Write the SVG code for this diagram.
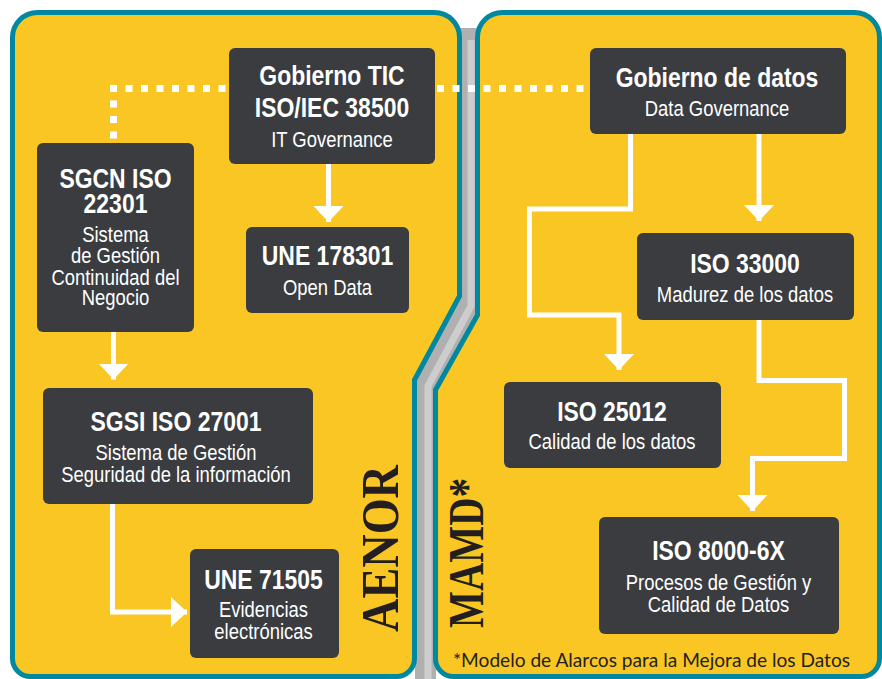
<svg xmlns="http://www.w3.org/2000/svg" width="882" height="679" viewBox="0 0 882 679">
<defs>
<style>
.panel{fill:#F9C623;stroke:#0088A0;stroke-width:5}
.box{fill:#3A3C40}
.t{fill:#FFFFFF;text-anchor:middle;font-family:"Liberation Sans",Arial,sans-serif}
.b{font-weight:bold;font-size:28px}
.r{font-weight:normal;font-size:22.5px}
.conn{fill:none;stroke:#FFFFFF;stroke-width:5;stroke-linejoin:miter}
.dot{fill:none;stroke:#FFFFFF;stroke-width:7;stroke-dasharray:7 8.5}
.big{fill:#231F20;font-family:"Liberation Serif",serif;font-weight:bold;text-anchor:middle}
</style>
<marker id="ah" viewBox="0 0 16 30" markerWidth="16" markerHeight="30" refX="16" refY="15" markerUnits="userSpaceOnUse" orient="auto">
<path d="M0,0 L16,15 L0,30 Z" fill="#FFFFFF"/>
</marker>
</defs>

<g id="background">
<rect x="0" y="0" width="882" height="679" fill="#FFFFFF"/>
<path d="M460,28 V297 L415,380 V679 H436 V390 L478,315 V28 Z" fill="#B0B0B0"/>
<path d="M471,40 V306 L428,386 V679" fill="none" stroke="#CDCDCD" stroke-width="7"/>
</g>

<g id="panel-aenor">
<path class="panel" d="M37.5,12.5 H434.5 A25,25 0 0 1 459.5,37.5 V296 L414.5,380 V658.5 A18,18 0 0 1 396.5,676.5 H30.5 A18,18 0 0 1 12.5,658.5 V37.5 A25,25 0 0 1 37.5,12.5 Z"/>
<text class="big" font-size="53" textLength="167" lengthAdjust="spacingAndGlyphs" transform="translate(398,548.5) rotate(-90)">AENOR</text>
</g>

<g id="panel-mamd">
<path class="panel" d="M502.5,12.5 H854.5 A25,25 0 0 1 879.5,37.5 V658.5 A18,18 0 0 1 861.5,676.5 H453.5 A18,18 0 0 1 435.5,658.5 V390 L477.5,315 V37.5 A25,25 0 0 1 502.5,12.5 Z"/>
<text class="big" font-size="50" textLength="150" lengthAdjust="spacingAndGlyphs" transform="translate(483,553) rotate(-90)">MAMD*</text>
<text x="453" y="667" font-family="Lato,'Open Sans',sans-serif" font-size="20" fill="#231F20" textLength="397" lengthAdjust="spacingAndGlyphs">*Modelo de Alarcos para la Mejora de los Datos</text>
</g>

<g id="connectors">
<path class="dot" d="M110,88.5 H229"/>
<path class="dot" d="M113.5,85 V143"/>
<path class="dot" d="M437,88.5 H590"/>
<path class="conn" d="M328.5,164 V222" marker-end="url(#ah)"/>
<path class="conn" d="M113.5,332 V379.5" marker-end="url(#ah)"/>
<path class="conn" d="M112.5,504 V612 H187" marker-end="url(#ah)"/>
<path class="conn" d="M759,134 V221" marker-end="url(#ah)"/>
<path class="conn" d="M630.5,134 V209 H529.5 V315 H619 V370" marker-end="url(#ah)"/>
<path class="conn" d="M759,320 V380.5 H844.5 V458.5 H752.5 V511" marker-end="url(#ah)"/>
</g>

<g id="node-gobierno-tic">
<rect class="box" x="229" y="48" width="206" height="116" rx="6"/>
<text class="t b" transform="translate(332,85) scale(0.82,1)">Gobierno TIC</text>
<text class="t b" transform="translate(332,117) scale(0.82,1)">ISO/IEC 38500</text>
<text class="t r" transform="translate(332,146.5) scale(0.82,1)">IT Governance</text>
</g>

<g id="node-sgcn">
<rect class="box" x="37" y="143" width="157" height="189" rx="6"/>
<text class="t b" transform="translate(115.5,188) scale(0.82,1)">SGCN ISO</text>
<text class="t b" transform="translate(115.5,212.5) scale(0.82,1)">22301</text>
<text class="t r" transform="translate(115.5,241.5) scale(0.82,1)">Sistema</text>
<text class="t r" transform="translate(115.5,263) scale(0.82,1)">de Gestión</text>
<text class="t r" transform="translate(115.5,284.5) scale(0.82,1)">Continuidad del</text>
<text class="t r" transform="translate(115.5,305) scale(0.82,1)">Negocio</text>
</g>

<g id="node-une178301">
<rect class="box" x="246" y="227" width="163" height="86" rx="6"/>
<text class="t b" transform="translate(327.5,265) scale(0.82,1)">UNE 178301</text>
<text class="t r" transform="translate(327.5,295) scale(0.82,1)">Open Data</text>
</g>

<g id="node-sgsi">
<rect class="box" x="43" y="388" width="270" height="116" rx="6"/>
<text class="t b" transform="translate(176,431) scale(0.82,1)">SGSI ISO 27001</text>
<text class="t r" transform="translate(176,460) scale(0.82,1)">Sistema de Gestión</text>
<text class="t r" transform="translate(176,481.5) scale(0.82,1)">Seguridad de la información</text>
</g>

<g id="node-une71505">
<rect class="box" x="190" y="549" width="149" height="109" rx="6"/>
<text class="t b" transform="translate(263.5,589) scale(0.82,1)">UNE 71505</text>
<text class="t r" transform="translate(263.5,617) scale(0.82,1)">Evidencias</text>
<text class="t r" transform="translate(263.5,639) scale(0.82,1)">electrónicas</text>
</g>

<g id="node-gobierno-datos">
<rect class="box" x="590" y="48" width="256" height="86" rx="6"/>
<text class="t b" transform="translate(717,86.5) scale(0.82,1)">Gobierno de datos</text>
<text class="t r" transform="translate(717,115.5) scale(0.82,1)">Data Governance</text>
</g>

<g id="node-iso33000">
<rect class="box" x="637" y="233" width="217" height="87" rx="6"/>
<text class="t b" transform="translate(745,272.5) scale(0.82,1)">ISO 33000</text>
<text class="t r" transform="translate(745,301.5) scale(0.82,1)">Madurez de los datos</text>
</g>

<g id="node-iso25012">
<rect class="box" x="504" y="382" width="217" height="86" rx="6"/>
<text class="t b" transform="translate(612,420.5) scale(0.82,1)">ISO 25012</text>
<text class="t r" transform="translate(612,449) scale(0.82,1)">Calidad de los datos</text>
</g>

<g id="node-iso8000">
<rect class="box" x="599" y="517" width="240" height="117" rx="6"/>
<text class="t b" transform="translate(718.5,560) scale(0.82,1)">ISO 8000-6X</text>
<text class="t r" transform="translate(718.5,590) scale(0.82,1)">Procesos de Gestión y</text>
<text class="t r" transform="translate(718.5,611.5) scale(0.82,1)">Calidad de Datos</text>
</g>
</svg>
